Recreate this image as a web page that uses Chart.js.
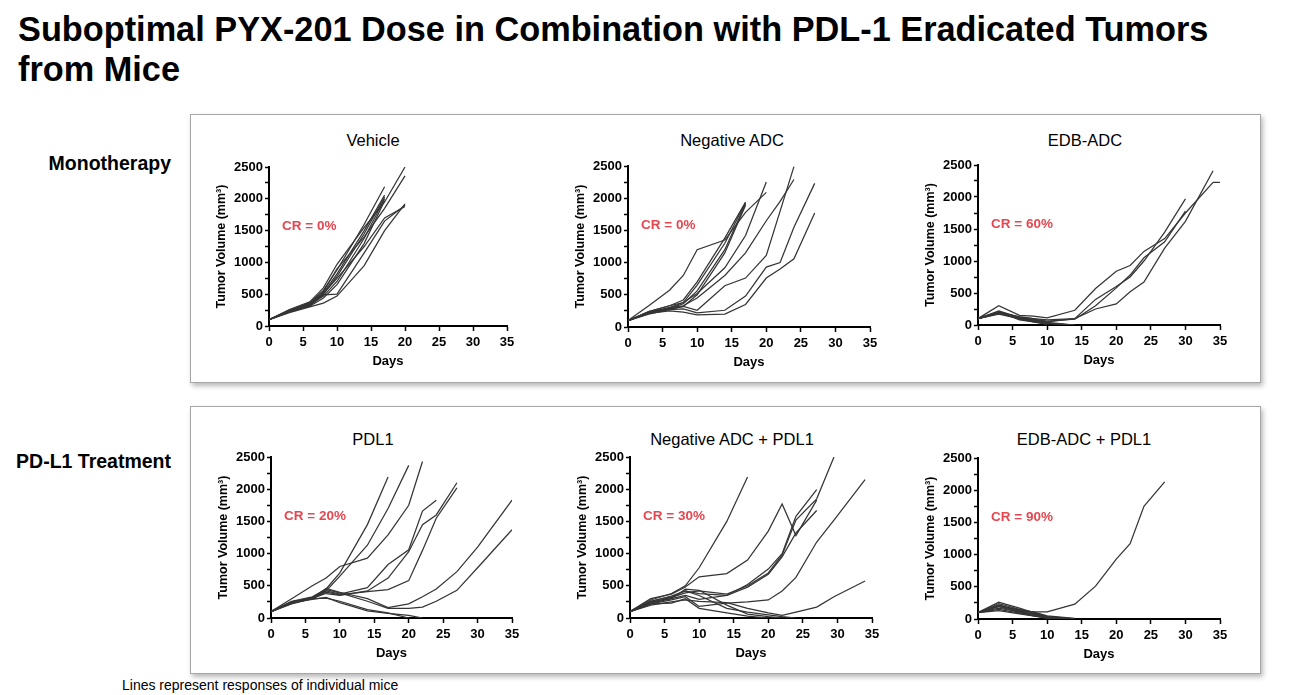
<!DOCTYPE html>
<html>
<head>
<meta charset="utf-8">
<script src="https://cdn.jsdelivr.net/npm/chart.js@4.4.1/dist/chart.umd.min.js"></script>
<style>
  html, body { margin:0; padding:0; background:#fff; }
  body { width:1304px; height:695px; position:relative; overflow:hidden; font-family:"Liberation Sans", Arial, sans-serif; color:#000; }
  .abs { position:absolute; }
  #title { left:18px; top:9px; font-size:34.3px; font-weight:bold; line-height:40px; white-space:nowrap; }
  .box { position:absolute; border:1px solid #a6a6a6; background:#fff; box-shadow:2px 3px 5px rgba(0,0,0,0.28); }
  .rowlab { position:absolute; font-weight:bold; font-size:19.5px; text-align:right; width:171px; left:0; line-height:24px; white-space:nowrap; }
  .ptitle { position:absolute; font-size:16.5px; line-height:20px; white-space:nowrap; transform:translate(-50%,-50%); }
  #foot { left:122px; top:676px; font-size:14px; line-height:18px; white-space:nowrap; }
  canvas { position:absolute; }
</style>
</head>
<body>
<div id="title" class="abs">Suboptimal PYX-201 Dose in Combination with PDL-1 Eradicated Tumors<br>from Mice</div>
<div class="box" style="left:190px; top:114px; width:1069px; height:267px;"></div>
<div class="box" style="left:190px; top:406px; width:1069px; height:266px;"></div>
<div class="rowlab" style="top:151px;">Monotherapy</div>
<div class="rowlab" style="top:449px;">PD-L1 Treatment</div>
<div id="foot" class="abs">Lines represent responses of individual mice</div>

<script>
// ---------------- DATA ----------------
const yTickLabels = [0, 500, 1000, 1500, 2000, 2500];
const xTickLabels = [0, 5, 10, 15, 20, 25, 30, 35];

// Vehicle
const vehicleDays = [0, 3, 6, 8, 10, 14, 17, 20];
const vehicleMice = [
  [100, 250, 370, 560, 880, 1600, 2190],
  [100, 240, 350, 520, 820, 1500, 2060],
  [100, 240, 340, 500, 780, 1450, 2030],
  [100, 230, 330, 470, 700, 1380, 2000],
  [100, 220, 310, 440, 650, 1300, 1970],
  [100, 260, 380, 600, 970, 1550, 1950, 2500],
  [100, 240, 360, 540, 900, 1400, 1850, 2360],
  [100, 220, 320, 490, 500, 1150, 1650, 1900],
  [100, 210, 300, 360, 470, 950, 1500, 1920],
  [100, 230, 330, 510, 750, 1250, 1700, 1880]
];

// Negative ADC
const negAdcDays = [0, 3, 6, 8, 10, 14, 17, 20, 22, 24, 27];
const negAdcMice = [
  [100, 220, 300, 380, 650, 1300, 1930],
  [100, 240, 330, 420, 700, 1380, 1940],
  [100, 210, 290, 360, 560, 1200, 1910],
  [100, 200, 270, 320, 500, 1150, 1890],
  [100, 330, 570, 800, 1200, 1350, 1780, 2090],
  [100, 240, 330, 380, 520, 920, 1420, 2250],
  [100, 230, 300, 330, 450, 800, 1150, 1650, 1950, 2290],
  [100, 230, 280, 320, 260, 640, 760, 1110, 1800, 2490],
  [100, 220, 270, 280, 220, 260, 480, 930, 1000, 1550, 2230],
  [100, 210, 250, 230, 190, 200, 350, 760, 900, 1060, 1770]
];

// EDB-ADC
const edbAdcDays = [0, 3, 6, 8, 10, 14, 17, 20, 22, 24, 27, 30, 34, 35];
const edbAdcMice = [
  [100, 210, 120, 100, 80, 100, 400, 600, 750, 1000, 1450, 1970],
  [100, 200, 110, 90, 60, 90, 300, 580, 780, 1050, 1300, 1780],
  [100, 190, 100, 80, 50, 100, 250, 330, 520, 670, 1200, 1620, 2410],
  [100, 300, 150, 140, 110, 230, 570, 840, 930, 1150, 1350, 1750, 2230, 2230],
  [100, 220, 120, 70, 30, 0],
  [100, 200, 90, 60, 20, 0],
  [100, 180, 100, 50, 10],
  [100, 210, 80, 50, 20],
  [100, 190, 130, 100, 40, 0],
  [100, 170, 100, 80, 30]
];

// PDL1
const pdl1Days = [0, 3, 6, 8, 10, 14, 17, 20, 22, 24, 27, 30, 35];
const pdl1Mice = [
  [100, 260, 330, 450, 700, 1450, 2190],
  [100, 250, 320, 420, 650, 1130, 1700, 2370],
  [100, 300, 500, 620, 800, 930, 1290, 1750, 2430],
  [100, 250, 300, 420, 370, 470, 830, 1060, 1660, 1830],
  [100, 240, 310, 380, 350, 420, 620, 1030, 1450, 1600, 2100],
  [100, 230, 300, 400, 360, 410, 440, 580, 1050, 1550, 2020],
  [100, 240, 310, 460, 400, 300, 160, 220, 330, 450, 720, 1100, 1830],
  [100, 230, 300, 440, 390, 260, 150, 150, 170, 260, 430, 780, 1370],
  [100, 220, 300, 310, 260, 130, 80, 0],
  [100, 240, 290, 320, 240, 110, 70, 40, 0]
];

// Negative ADC + PDL1
const negPdl1Days = [0, 3, 6, 8, 10, 14, 17, 20, 22, 24, 27, 29.5, 34];
const negPdl1Mice = [
  [100, 280, 380, 500, 780, 1500, 2190],
  [100, 300, 370, 480, 640, 690, 900, 1350, 1770, 1280, 1830],
  [100, 260, 340, 420, 380, 350, 520, 760, 1000, 1580, 1995],
  [100, 240, 320, 390, 420, 370, 500, 700, 980, 1520, 1850, 2500],
  [100, 230, 300, 350, 290, 350, 480, 680, 950, 1320, 1670],
  [100, 220, 280, 330, 180, 230, 250, 280, 420, 630, 1180, 1520, 2150],
  [100, 200, 250, 280, 260, 240, 150, 80, 40, 90, 170, 330, 575],
  [100, 250, 300, 450, 430, 200, 60, 20, 0],
  [100, 220, 230, 300, 150, 80, 30, 0],
  [100, 260, 330, 420, 350, 150, 90, 50, 20, 0]
];

// EDB-ADC + PDL1
const edbPdl1Days = [0, 3, 6, 8, 10, 14, 17, 20, 22, 24, 27];
const edbPdl1Mice = [
  [100, 200, 130, 110, 110, 230, 510, 930, 1170, 1750, 2130],
  [100, 260, 170, 100, 40, 0],
  [100, 240, 150, 90, 30, 0],
  [100, 210, 120, 70, 20, 0],
  [100, 200, 140, 110, 50, 10],
  [100, 190, 100, 60, 20, 0],
  [100, 170, 110, 80, 40, 0],
  [100, 150, 90, 50, 20, 0],
  [100, 130, 80, 50, 10, 0],
  [100, 220, 130, 80, 30, 5]
];

const panelTitles = ['Vehicle', 'Negative ADC', 'EDB-ADC', 'PDL1', 'Negative ADC + PDL1', 'EDB-ADC + PDL1'];
const crLabels = ['CR = 0%', 'CR = 0%', 'CR = 60%', 'CR = 20%', 'CR = 30%', 'CR = 90%'];

// ---------------- LAYOUT ----------------
const FONT = '"Liberation Sans", Arial, sans-serif';
const Y_W = 60, PAD_T = 10, PAD_R = 16, X_H = 46;
const panels = [
  { days: vehicleDays, mice: vehicleMice, l: 269, t: 167, w: 238, h: 159, tx: 373, ty: 140 },
  { days: negAdcDays,  mice: negAdcMice,  l: 628, t: 166, w: 242, h: 161, tx: 732, ty: 140 },
  { days: edbAdcDays,  mice: edbAdcMice,  l: 978, t: 165, w: 242, h: 160, tx: 1085, ty: 140 },
  { days: pdl1Days,    mice: pdl1Mice,    l: 271, t: 457, w: 241, h: 161, tx: 373, ty: 438.5 },
  { days: negPdl1Days, mice: negPdl1Mice, l: 630, t: 457, w: 242, h: 161, tx: 732, ty: 438.5 },
  { days: edbPdl1Days, mice: edbPdl1Mice, l: 978, t: 458, w: 242, h: 161, tx: 1084, ty: 438.5 }
];

const crPlugin = {
  id: 'crLabel',
  afterDraw(chart, args, opts) {
    const { ctx, chartArea } = chart;
    ctx.save();
    ctx.font = 'bold 13.5px ' + FONT;
    ctx.fillStyle = '#e5464f';
    ctx.textBaseline = 'middle';
    ctx.textAlign = 'left';
    ctx.fillText(opts.text, chartArea.left + 13, chartArea.top + 59);
    ctx.restore();
  }
};

panels.forEach((p, i) => {
  const t = document.createElement('div');
  t.className = 'ptitle';
  t.style.left = p.tx + 'px';
  t.style.top = p.ty + 'px';
  t.textContent = panelTitles[i];
  document.body.appendChild(t);

  const cv = document.createElement('canvas');
  const W = p.w + Y_W + PAD_R, H = p.h + PAD_T + X_H;
  cv.width = W; cv.height = H;
  cv.style.width = W + 'px'; cv.style.height = H + 'px';
  cv.style.left = (p.l - Y_W) + 'px';
  cv.style.top = (p.t - PAD_T) + 'px';
  document.body.appendChild(cv);

  const datasets = p.mice.map(vals => ({
    data: vals.map((v, k) => ({ x: p.days[k], y: v })),
    borderColor: '#353535',
    borderWidth: 1.25,
    pointRadius: 0,
    fill: false,
    tension: 0,
    spanGaps: true
  }));

  new Chart(cv.getContext('2d'), {
    type: 'line',
    data: { datasets },
    options: {
      responsive: false,
      animation: false,
      devicePixelRatio: 1,
      layout: { padding: { left: 0, top: PAD_T, right: PAD_R, bottom: 0 } },
      plugins: {
        legend: { display: false },
        tooltip: { enabled: false },
        crLabel: { text: crLabels[i] }
      },
      scales: {
        x: {
          type: 'linear', min: 0, max: 35,
          afterBuildTicks: s => { s.ticks = xTickLabels.map(v => ({ value: v })); },
          afterFit: s => { s.height = X_H; },
          ticks: { font: { family: FONT, weight: 'bold', size: 13 }, color: '#000', padding: 4, maxRotation: 0, autoSkip: false },
          grid: { drawOnChartArea: false, drawTicks: true, tickLength: 5, tickColor: '#000', tickWidth: 1.5 },
          border: { color: '#000', width: 2 },
          title: { display: true, text: 'Days', color: '#000', font: { family: FONT, weight: 'bold', size: 13 }, padding: { top: 0, bottom: 2.5 } }
        },
        y: {
          type: 'linear', min: 0, max: 2500,
          afterBuildTicks: s => {
            const arr = [];
            for (let v = 0; v <= 2500; v += 250) arr.push({ value: v });
            s.ticks = arr;
          },
          afterFit: s => { s.width = Y_W; },
          ticks: {
            font: { family: FONT, weight: 'bold', size: 13 }, color: '#000', padding: 2, autoSkip: false,
            callback: v => (yTickLabels.includes(v) ? String(v) : '')
          },
          grid: { drawOnChartArea: false, drawTicks: true, tickLength: 4, tickColor: '#000', tickWidth: 1.5 },
          border: { color: '#000', width: 2 },
          title: { display: true, text: 'Tumor Volume (mm³)', color: '#000', font: { family: FONT, weight: 'bold', size: 12.5 }, padding: { top: 5, bottom: 0 } }
        }
      }
    },
    plugins: [crPlugin]
  });
});
</script>
</body>
</html>
